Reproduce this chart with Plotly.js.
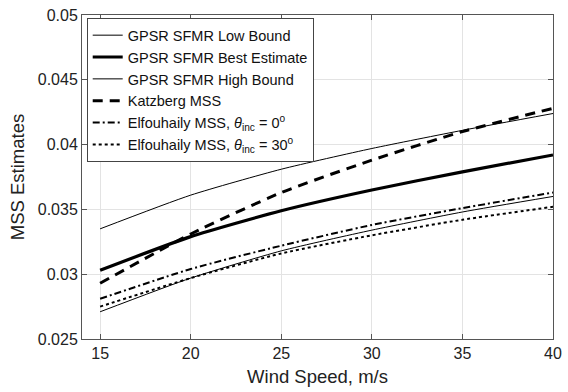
<!DOCTYPE html>
<html>
<head>
<meta charset="utf-8">
<script src="https://cdn.plot.ly/plotly-3.0.1.min.js"></script>
<style>html,body{margin:0;padding:0;background:#fff;}#chart{width:568px;height:392px;}</style>
</head>
<body>
<div id="chart"></div>
<script>
const windSpeed = [15, 20, 25, 30, 35, 40];
const lowBound = [0.0271, 0.0297, 0.0318, 0.0334, 0.0348, 0.0360];
const bestEstimate = [0.0303, 0.0329, 0.0349, 0.0365, 0.0379, 0.0392];
const highBound = [0.0335, 0.0361, 0.0381, 0.0397, 0.0411, 0.0424];
const katzberg = [0.0293, 0.0331, 0.0363, 0.0388, 0.0410, 0.0428];
const elf0 = [0.0281, 0.0304, 0.0322, 0.0338, 0.0351, 0.0363];
const elf30 = [0.0275, 0.0297, 0.0316, 0.0330, 0.0342, 0.0352];
const seriesNames = [
  'GPSR SFMR Low Bound',
  'GPSR SFMR Best Estimate',
  'GPSR SFMR High Bound',
  'Katzberg MSS',
  'Elfouhaily MSS, <i>θ</i><sub>inc</sub> = 0<sup>o</sup>',
  'Elfouhaily MSS, <i>θ</i><sub>inc</sub> = 30<sup>o</sup>'
];
const seriesData = [lowBound, bestEstimate, highBound, katzberg, elf0, elf30];
const styles = [
  {width: 1, dash: 'solid'},
  {width: 3.2, dash: 'solid'},
  {width: 1, dash: 'solid'},
  {width: 3, dash: '10px,7px'},
  {width: 2, dash: '7px,3px,2px,3px'},
  {width: 2, dash: 'dot'}
];
const traces = seriesData.map((ys, i) => ({
  x: windSpeed, y: ys, type: 'scatter', mode: 'lines', name: seriesNames[i],
  line: {color: '#000', width: styles[i].width, dash: styles[i].dash, shape: 'spline', smoothing: 0.6}
}));
const FONT = 'Liberation Sans, Arial, sans-serif';
const axisCommon = {
  showline: true, mirror: 'ticks', linecolor: '#555', linewidth: 1,
  ticks: 'inside', ticklen: 5, tickcolor: '#555',
  showgrid: true, gridcolor: '#e3e3e3', gridwidth: 1, zeroline: false,
  tickfont: {family: FONT, size: 16, color: '#222'}
};
const layout = {
  width: 568, height: 392,
  margin: {l: 82, r: 15, t: 15, b: 53},
  paper_bgcolor: '#fff', plot_bgcolor: '#fff',
  showlegend: true,
  xaxis: Object.assign({}, axisCommon, {
    range: [14, 40], tickvals: [15, 20, 25, 30, 35, 40],
    title: {text: 'Wind Speed, m/s', standoff: 8, font: {family: FONT, size: 18.5, color: '#222'}}
  }),
  yaxis: Object.assign({}, axisCommon, {
    range: [0.025, 0.05], tickvals: [0.025, 0.03, 0.035, 0.04, 0.045, 0.05],
    ticktext: ['0.025', '0.03', '0.035', '0.04', '0.045', '0.05'],
    title: {text: 'MSS Estimates', standoff: 8, font: {family: FONT, size: 18.5, color: '#222'}}
  }),
  legend: {
    x: 0.01, y: 0.99, xanchor: 'left', yanchor: 'top',
    bgcolor: '#fff', bordercolor: '#444', borderwidth: 1,
    font: {family: FONT, size: 14.5, color: '#111'},
    itemwidth: 30,
    tracegroupgap: 0
  }
};
Plotly.newPlot('chart', traces, layout, {displayModeBar: false, staticPlot: true});
</script>
</body>
</html>
